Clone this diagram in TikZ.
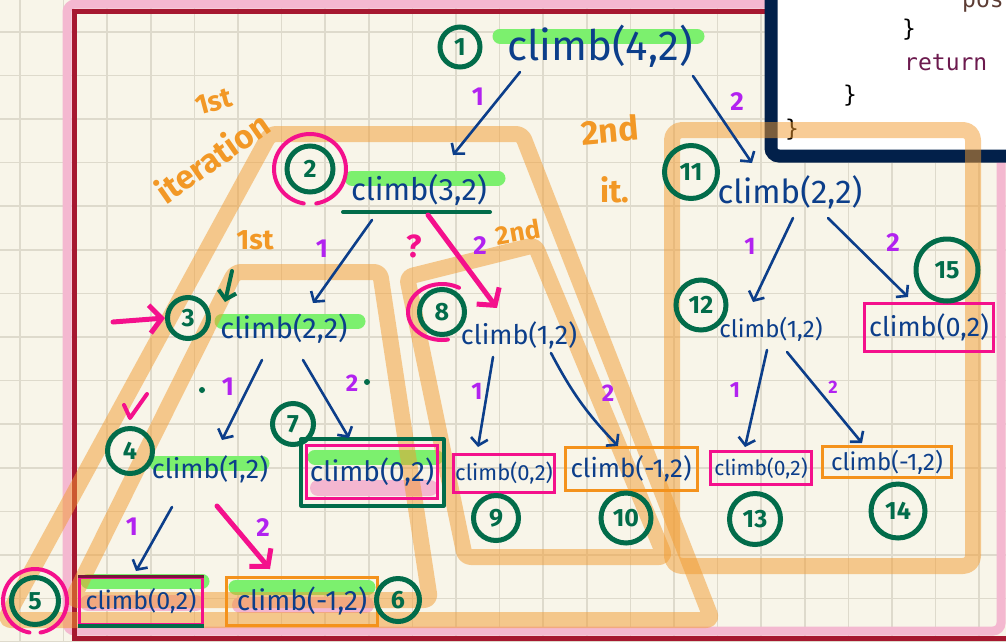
\documentclass[tikz,border=0pt]{standalone}
\usepackage{fontspec}
\setmainfont{Fira Sans}
\setmonofont{DejaVu Sans Mono}
\usetikzlibrary{calc,arrows.meta}

\definecolor{paper}{RGB}{248,245,233}
\definecolor{gridline}{RGB}{222,218,204}
\definecolor{callblue}{RGB}{12,62,138}
\definecolor{steppurple}{RGB}{178,34,240}
\definecolor{numgreen}{RGB}{2,108,74}
\definecolor{hotpink}{RGB}{244,16,140}
\definecolor{boxorange}{RGB}{244,146,28}
\definecolor{inkorange}{RGB}{242,152,38}
\definecolor{bandorange}{RGB}{242,155,47}
\definecolor{hlgreen}{RGB}{124,240,110}
\definecolor{hlpink}{RGB}{244,182,208}
\definecolor{framepink}{RGB}{244,184,208}
\definecolor{framered}{RGB}{166,24,48}
\definecolor{codenavy}{RGB}{2,32,74}
\definecolor{kwpurple}{RGB}{108,26,78}
\definecolor{identbrown}{RGB}{92,60,52}
\definecolor{maroonedge}{RGB}{120,20,60}

\begin{document}
\begin{tikzpicture}[x=1pt,y=-1pt,
  call/.style={text=callblue, font=\fontsize{#1}{#1}\selectfont, inner sep=0pt},
  pinkbox/.style={draw=hotpink, line width=3pt},
  orangebox/.style={draw=boxorange, line width=3pt},
  steplab/.style={text=steppurple, font=\fontsize{#1}{#1}\selectfont\bfseries, inner sep=0pt},
  order/.style={circle, draw=numgreen, line width=5pt, text=numgreen,
    font=\fontsize{25}{25}\selectfont\bfseries, inner sep=0pt, minimum size=#1},
  edge/.style={draw=callblue, line width=2.6pt, line cap=round, line join=round,
    -{Straight Barb[length=7pt,width=17pt]}},
  pinkedge/.style={draw=hotpink, line width=5pt, line cap=round, line join=round,
    -{Straight Barb[length=12pt,width=28pt]}},
  greenedge/.style={draw=numgreen, line width=4pt, line cap=round, line join=round,
    -{Straight Barb[length=8pt,width=18pt]}},
  marker/.style={draw=hlgreen, line width=15pt, line cap=round},
  pinkmarker/.style={draw=hlpink, line width=16pt, line cap=round},
  band/.style={draw=bandorange, draw opacity=0.5, line width=16pt, line join=round, rounded corners=6pt},
  ring/.style={draw=hotpink, line width=4pt, line cap=round, line join=round},
  note/.style={text=inkorange, font=\fontsize{#1}{#1}\selectfont\bfseries, inner sep=0pt},
  codetext/.style={font=\ttfamily\fontsize{23}{23}\selectfont, inner sep=0pt, anchor=base west}
]
\useasboundingbox (0,0) rectangle (1006,641);
\clip (0,0) rectangle (1006,641);

% squared paper
\fill[paper] (0,0) rectangle (1006,641);
\foreach \i in {0,...,22}
  \draw[gridline, line width=1.6pt] ({20+43.6*\i},0) -- ({20+43.6*\i},641);
\foreach \j in {0,...,15}
  \draw[gridline, line width=1.6pt] (0,{-11.9+43.6*\j}) -- (1006,{-11.9+43.6*\j});

% page frame
\draw[framepink, line width=9pt, rounded corners=8pt] (67,4) rectangle (1001,631);
\draw[framered, line width=5pt] (1020,11) -- (74,11) -- (74,638) -- (1020,638);

% code panel
\draw[codenavy, line width=13pt, fill=white, rounded corners=8pt] (771,-30) rectangle (1040,156);
\node[codetext, text=identbrown] (codepos) at (962,7) {pos};
\node[codetext] (codebrace1) at (902,36) {\}};
\node[codetext, text=kwpurple] (codereturn) at (904,70) {return};
\node[codetext] (codebrace2) at (843,102) {\}};
\node[codetext] (codebrace3) at (785,136) {\}};

% highlighter strokes
\draw[marker] (500,36) -- (697,36);
\draw[marker] (352,178) -- (498,178);
\draw[marker] (222,321) -- (358,321);
\draw[marker] (157,463) -- (262,463);
\draw[marker] (315,457) -- (436,457);
\draw[marker] (88,581) -- (202,581);
\draw[marker] (236,587) -- (368,587);
\draw[pinkmarker] (318,488) -- (430,488);
\draw[pinkmarker] (88,603) -- (196,603);
\draw[pinkmarker] (240,605) -- (366,605);

% grouping outlines
\draw[band] (270,134) -- (522,134) -- (712,620) -- (5,620) -- cycle;
\draw[band] (235,272) -- (380,272) -- (430,600) -- (72,600) -- cycle;
\draw[band] (407,277) -- (535,245) -- (665,557) -- (465,557) -- cycle;
\draw[band, rounded corners=10pt] (672,130) rectangle (973,566);

% calls
\node[call=42] (c42) at (600,46) {climb(4,2)};
\node[call=31] (c32a) at (419,190) {climb(3,2)};
\node[call=29] (c22a) at (284,329) {climb(2,2)};
\node[call=27] (c12b) at (519,335) {climb(1,2)};
\node[call=33] (c22b) at (790,192) {climb(2,2)};
\node[call=24] (c12c) at (771,329) {climb(1,2)};
\node[call=27] (c12a) at (210,469) {climb(1,2)};
\node[call=27, pinkbox, minimum width=129pt, minimum height=48pt] (c02e) at (929,327) {climb(0,2)};
\node[call=28, pinkbox, line width=2.5pt, minimum width=131pt, minimum height=53pt] (c02b) at (372,472) {climb(0,2)};
\node[call=22, pinkbox, minimum width=101pt, minimum height=38pt] (c02c) at (504,473) {climb(0,2)};
\node[call=26, orangebox, minimum width=132pt, minimum height=43pt] (cm1a) at (631,469) {climb(-1,2)};
\node[call=21, pinkbox, minimum width=101pt, minimum height=33pt] (c02d) at (761,468) {climb(0,2)};
\node[call=24, orangebox, minimum width=129pt, minimum height=31pt] (cm1b) at (887,462) {climb(-1,2)};
\node[call=25, pinkbox, minimum width=123pt, minimum height=47pt] (c02a) at (141,601) {climb(0,2)};
\node[call=28, orangebox, minimum width=151pt, minimum height=48pt] (cm1c) at (302,601) {climb(-1,2)};

% extra marks on some calls
\draw[numgreen, line width=4pt, line cap=round] ($(c32a)+(-76,22)$) -- ($(c32a)+(71,22)$);
\draw[numgreen, line width=4pt, line join=round]
  ($(c02b.north west)+(-4,-5)$) rectangle ($(c02b.south east)+(5,6)$);
\draw[maroonedge, line width=3pt] (c02a.north west) -- (c02a.north east);
\draw[numgreen, line width=4pt] (c02a.south west) -- (c02a.south east);

% calls made from each call
\draw[edge] ($(c42)+(-80,26)$) -- ($(c32a)+(34,-35)$);
\draw[edge] ($(c42)+(93,30)$) -- ($(c22b)+(-38,-29)$);
\draw[edge] ($(c32a)+(-47,30)$) -- ($(c22a)+(29,-26)$);
\draw[pinkedge] ($(c32a)+(9,25)$) -- ($(c12b)+(-22,-27)$);
\draw[edge] ($(c22a)+(-22,31)$) -- ($(c12a)+(12,-29)$);
\draw[edge] ($(c22a)+(19,31)$) -- ($(c02b)+(-23,-34)$);
\draw[edge] ($(c12a)+(-38,38)$) -- ($(c02a)+(-5,-30)$);
\draw[pinkedge] ($(c12a)+(7,37)$) -- ($(cm1c)+(-32,-32)$);
\draw[edge] ($(c12b)+(-26,22)$) -- ($(c02c)+(-26,-26)$);
\draw[edge] ($(c12b)+(32,18)$) to[bend right=8] ($(cm1a)+(-13,-23)$);
\draw[edge] ($(c22b)+(3,26)$) -- ($(c12c)+(-18,-27)$);
\draw[edge] ($(c22b)+(38,26)$) -- ($(c02e)+(-21,-30)$);
\draw[edge] ($(c12c)+(-4,21)$) -- ($(c02d)+(-16,-21)$);
\draw[edge] ($(c12c)+(16,23)$) -- ($(cm1b)+(-25,-19)$);

% step sizes
\node[steplab=26] (s1a) at (478,97) {1};
\node[steplab=26] (s2a) at (737,102) {2};
\node[steplab=26] (s1b) at (322,249) {1};
\node[steplab=26] (s2b) at (480,246) {2};
\node[steplab=26] (s1c) at (228,387) {1};
\node[steplab=24] (s2c) at (352,383) {2};
\node[steplab=26] (s1d) at (132,527) {1};
\node[steplab=26] (s2d) at (263,528) {2};
\node[steplab=24] (s1e) at (477,391) {1};
\node[steplab=24] (s2e) at (608,393) {2};
\node[steplab=24] (s1f) at (750,246) {1};
\node[steplab=26] (s2f) at (893,243) {2};
\node[steplab=22] (s1g) at (735,390) {1};
\node[steplab=18] (s2g) at (833,387) {2};

% order of the calls
\node[order=40] (o1) at (460,47) {1};
\node[order=46] (o2) at (310,169) {2};
\node[order=41] (o3) at (188,318) {3};
\node[order=45] (o4) at (130,451) {4};
\node[order=47] (o5) at (35,601) {5};
\node[order=43] (o6) at (398,600) {6};
\node[order=41] (o7) at (293,424) {7};
\node[order=45] (o8) at (442,312) {8};
\node[order=45] (o9) at (496,518) {9};
\node[order=50] (o10) at (626,518) {10};
\node[order=53] (o11) at (691,172) {11};
\node[order=50] (o12) at (701,305) {12};
\node[order=51] (o13) at (755,519) {13};
\node[order=54] (o14) at (898,511) {14};
\node[order=62] (o15) at (947,270) {15};

% pink emphasis: open rings (each in two halves), arrows and a tick
\begin{scope}[shift={(o2)}]
  \draw[ring] plot[smooth, domain=100:270, samples=30, variable=\t] ({36*cos(\t)},{35*sin(\t)});
  \draw[ring] plot[smooth, domain=-90:80, samples=30, variable=\t] ({36*cos(\t)},{35*sin(\t)});
\end{scope}
\begin{scope}[shift={(o5)}]
  \draw[ring] plot[smooth, domain=100:270, samples=30, variable=\t] ({32*cos(\t)},{32*sin(\t)});
  \draw[ring] plot[smooth, domain=-90:80, samples=30, variable=\t] ({32*cos(\t)},{32*sin(\t)});
\end{scope}
\begin{scope}[shift={(o8)}]
  \draw[ring] plot[smooth, domain=80:300, samples=40, variable=\t] ({34*cos(\t)},{28*sin(\t)});
\end{scope}
\coordinate (pinkfrom) at (113,322);
\draw[pinkedge] (pinkfrom) -- (o3.west);
\draw[hotpink, line width=4pt, line cap=round, line join=round] (124,405) -- (130,418) -- (147,394);
\node[text=hotpink, font=\fontsize{32}{32}\selectfont\bfseries] (qmark) at (414,246) {?};

% small green pointer and dots
\coordinate (greenfrom) at (232,271);
\draw[greenedge] (greenfrom) -- ($(c22a)+(-59,-27)$);
\fill[numgreen] (202,390) circle (3);
\fill[numgreen] (367,382) circle (3);

% handwritten notes
\node[note=28, rotate=15] (n1st) at (214,102) {1st};
\node[note=33, rotate=35] (niter) at (212,157) {iteration};
\node[note=28] (n1stb) at (255,240) {1st};
\node[note=34, rotate=5] (n2nd) at (610,130) {2nd};
\node[note=32] (nit) at (615,190) {it.};
\node[note=26, rotate=10] (n2ndb) at (518,232) {2nd};
\end{tikzpicture}
\end{document}
